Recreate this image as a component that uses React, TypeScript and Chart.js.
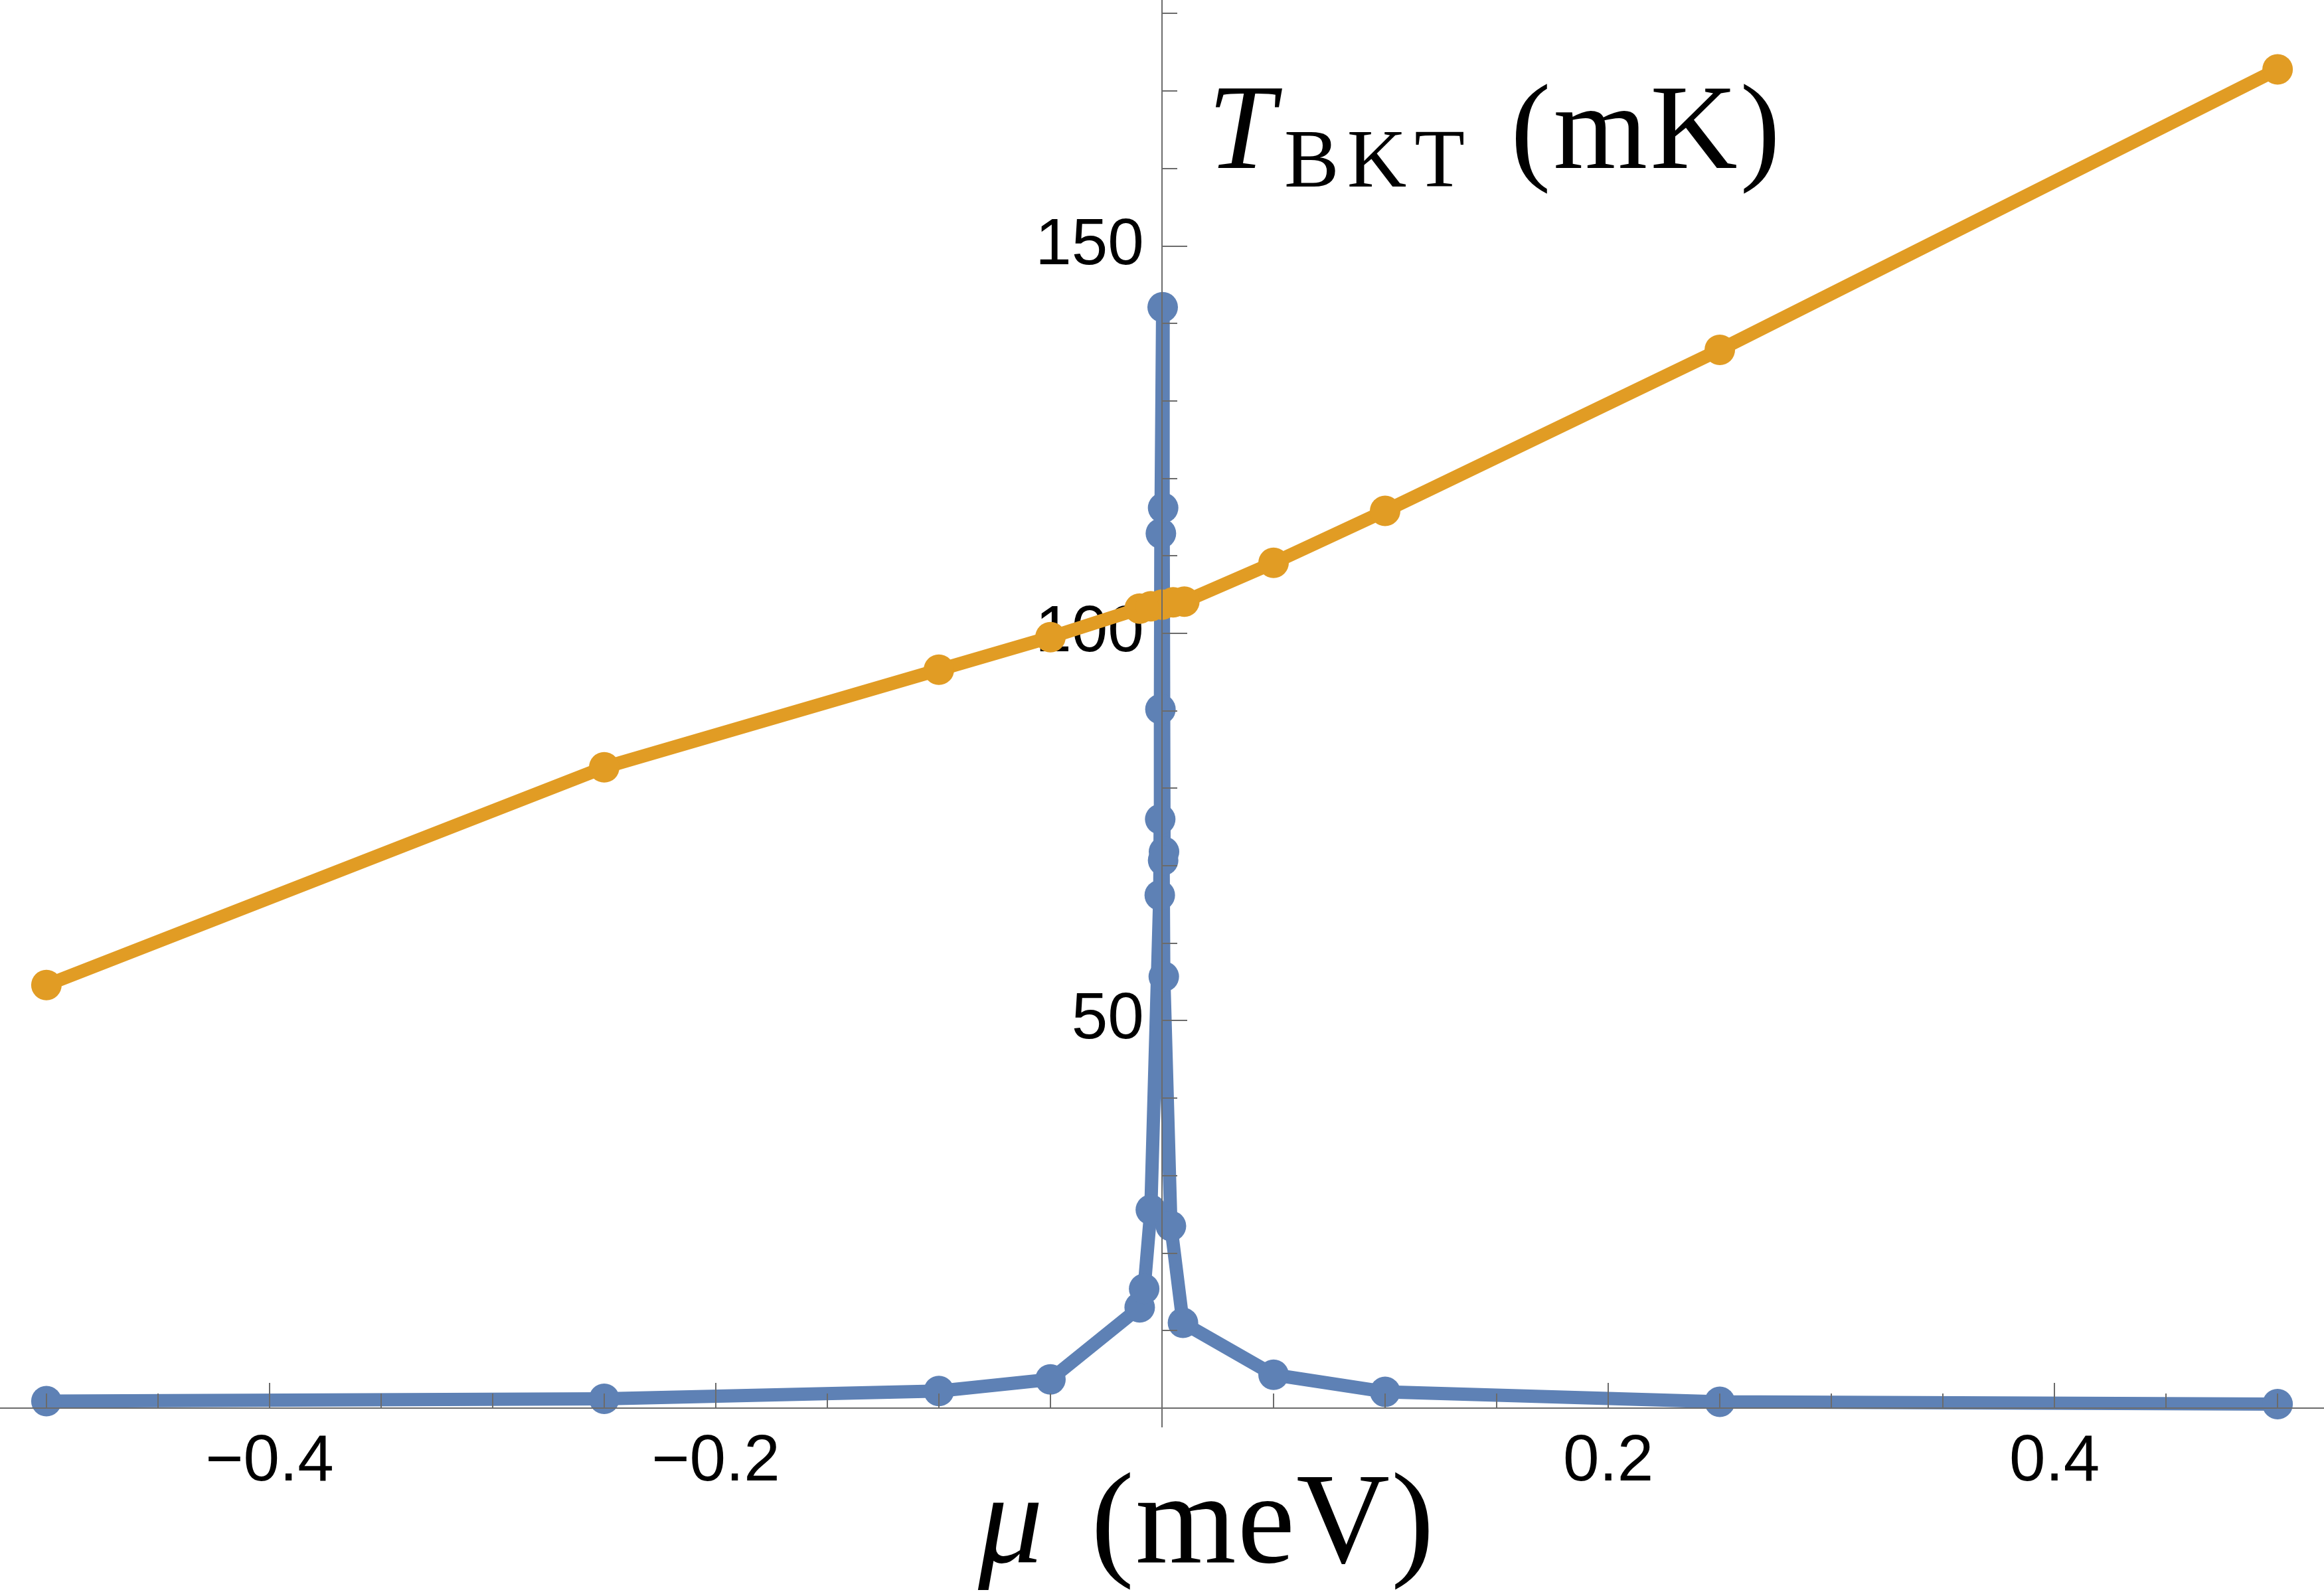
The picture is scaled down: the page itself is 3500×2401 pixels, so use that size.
import React, { useEffect, useRef } from "react";
import { Chart, registerables } from "chart.js";

Chart.register(...registerables);

// ---- data ----
const BLUE_X = [-0.5, -0.25, -0.1, -0.05, -0.01, -0.008, -0.005, -0.001, -0.0008, -0.0007, -0.0005, 0.0003, 0.0005, 0.0009, 0.0005, 0.0008, 0.004, 0.0094, 0.05, 0.1, 0.25, 0.5];
const BLUE_Y = [0.9, 1.2, 2.2, 3.7, 13.0, 15.4, 25.6, 66.2, 76.0, 90.2, 112.9, 142.1, 116.2, 71.8, 70.7, 55.7, 23.5, 11.0, 4.3, 2.1, 0.8, 0.5];

const ORANGE_X = [-0.5, -0.25, -0.1, -0.05, -0.01, -0.005, 0, 0.005, 0.01, 0.05, 0.1, 0.25, 0.5];
const ORANGE_Y = [54.6, 82.7, 95.3, 99.5, 103.2, 103.5, 103.7, 104.0, 104.1, 109.1, 115.8, 136.6, 172.8];

const X_MAJOR_TICKS = [-0.4, -0.2, 0.2, 0.4];
const X_TICK_LABELS = ["\u22120.4", "\u22120.2", "0.2", "0.4"];
const X_MINOR_TICKS = [-0.5, -0.45, -0.35, -0.3, -0.25, -0.15, -0.1, -0.05, 0.05, 0.1, 0.15, 0.25, 0.3, 0.35, 0.45, 0.5];

const Y_MAJOR_TICKS = [50, 100, 150];
const Y_TICK_LABELS = ["50", "100", "150"];
const Y_MINOR_TICKS = [10, 20, 30, 40, 60, 70, 80, 90, 110, 120, 130, 140, 160, 170, 180];

const X_MIN = -0.5208;
const X_MAX = 0.5208;
const Y_MIN = -24;
const Y_MAX = 181.75;
const Y_AXIS_BOTTOM = -2.5;

const BLUE = "#5E81B5";
const ORANGE = "#E19C24";
const AXIS_COLOR = "#6B6B6B";

const W = 3500;
const H = 2401;

const axesPlugin = {
  id: "mmaAxes",
  afterDatasetsDraw(chart: any) {
    const { ctx } = chart;
    const xs = chart.scales.x;
    const ys = chart.scales.y;
    const x0 = Math.round(xs.getPixelForValue(0));
    const y0 = Math.round(ys.getPixelForValue(0));
    ctx.save();
    ctx.strokeStyle = AXIS_COLOR;
    ctx.lineWidth = 2;
    ctx.lineCap = "butt";
    ctx.beginPath();
    ctx.moveTo(0, y0);
    ctx.lineTo(chart.width, y0);
    ctx.moveTo(x0, ys.getPixelForValue(Y_AXIS_BOTTOM));
    ctx.lineTo(x0, 0);
    for (const v of X_MAJOR_TICKS) {
      const p = Math.round(xs.getPixelForValue(v));
      ctx.moveTo(p, y0);
      ctx.lineTo(p, y0 - 38);
    }
    for (const v of X_MINOR_TICKS) {
      const p = Math.round(xs.getPixelForValue(v));
      ctx.moveTo(p, y0);
      ctx.lineTo(p, y0 - 22);
    }
    for (const v of Y_MAJOR_TICKS) {
      const p = Math.round(ys.getPixelForValue(v));
      ctx.moveTo(x0, p);
      ctx.lineTo(x0 + 38, p);
    }
    for (const v of Y_MINOR_TICKS) {
      const p = Math.round(ys.getPixelForValue(v));
      ctx.moveTo(x0, p);
      ctx.lineTo(x0 + 23, p);
    }
    ctx.stroke();
    ctx.restore();
  },
};

const zeroFit = (s: any, horizontal: boolean) => {
  if (horizontal) s.height = 0;
  else s.width = 0;
  s.paddingLeft = 0;
  s.paddingRight = 0;
  s.paddingTop = 0;
  s.paddingBottom = 0;
};

const tickFont = { family: "'Liberation Sans', Arial, sans-serif", size: 98 };

export default function App() {
  const ref = useRef<HTMLCanvasElement>(null);

  useEffect(() => {
    if (!ref.current) return;
    const chart = new Chart(ref.current, {
      type: "line",
      data: {
        datasets: [
          {
            label: "orange",
            data: ORANGE_X.map((x, i) => ({ x, y: ORANGE_Y[i] })),
            borderColor: ORANGE,
            backgroundColor: ORANGE,
            pointBackgroundColor: ORANGE,
            borderWidth: 20,
            pointRadius: 23,
            pointBorderWidth: 0,
            pointHoverRadius: 23,
            tension: 0,
            fill: false,
            borderJoinStyle: "round",
            borderCapStyle: "round",
            order: 0,
          },
          {
            label: "blue",
            data: BLUE_X.map((x, i) => ({ x, y: BLUE_Y[i] })),
            borderColor: BLUE,
            backgroundColor: BLUE,
            pointBackgroundColor: BLUE,
            borderWidth: 20,
            pointRadius: 23,
            pointBorderWidth: 0,
            pointHoverRadius: 23,
            tension: 0,
            fill: false,
            borderJoinStyle: "round",
            borderCapStyle: "round",
            order: 1,
          },
        ],
      } as any,
      options: {
        animation: false,
        responsive: false,
        maintainAspectRatio: false,
        devicePixelRatio: 1,
        events: [],
        layout: { padding: 0, autoPadding: false },
        plugins: {
          legend: { display: false },
          tooltip: { enabled: false },
          title: { display: false },
        },
        scales: {
          x: {
            type: "linear",
            min: X_MIN,
            max: X_MAX,
            position: { y: 0 },
            z: 1,
            grid: { display: false, drawTicks: false },
            border: { display: false },
            ticks: {
              padding: 23,
              autoSkip: false,
              maxRotation: 0,
              minRotation: 0,
              color: "#000",
              font: tickFont,
              callback: (_v: any, i: number) => X_TICK_LABELS[i],
            },
            afterBuildTicks: (s: any) => {
              s.ticks = X_MAJOR_TICKS.map((value) => ({ value }));
            },
            afterFit: (s: any) => zeroFit(s, true),
          },
          y: {
            type: "linear",
            min: Y_MIN,
            max: Y_MAX,
            position: { x: 0 },
            z: 1,
            grid: { display: false, drawTicks: false },
            border: { display: false },
            ticks: {
              padding: 0,
              autoSkip: false,
              color: "#000",
              font: tickFont,
              callback: (_v: any, i: number) => Y_TICK_LABELS[i] + " ",
            },
            afterBuildTicks: (s: any) => {
              s.ticks = Y_MAJOR_TICKS.map((value) => ({ value }));
            },
            afterFit: (s: any) => zeroFit(s, false),
          },
        },
      } as any,
      plugins: [axesPlugin],
    });
    return () => chart.destroy();
  }, []);

  const serif = "'Liberation Serif', 'Times New Roman', serif";
  const base: React.CSSProperties = {
    position: "absolute",
    fontFamily: serif,
    lineHeight: 1,
    whiteSpace: "nowrap",
    color: "#000",
    margin: 0,
    padding: 0,
  };

  return (
    <div style={{ position: "absolute", left: 0, top: 0, width: W, height: H, background: "#fff", overflow: "hidden" }}>
      <canvas ref={ref} width={W} height={H} style={{ position: "absolute", left: 0, top: 0, width: W, height: H }} />
      {/* y-axis label: T_BKT (mK) */}
      <div style={{ ...base, left: 1819, top: 101, fontSize: 182, fontStyle: "italic" }}>T</div>
      <div style={{ ...base, left: 1934, top: 178, fontSize: 124, letterSpacing: 12 }}>BKT</div>
      <div style={{ ...base, left: 2275, top: 101, fontSize: 182, letterSpacing: 4 }}>(mK)</div>
      {/* x-axis label: μ (meV) */}
      <div style={{ ...base, left: 1473, top: 2190, fontSize: 195, fontStyle: "italic" }}>μ</div>
      <div style={{ ...base, left: 1643, top: 2190, fontSize: 195, letterSpacing: 2 }}>(meV)</div>
    </div>
  );
}
